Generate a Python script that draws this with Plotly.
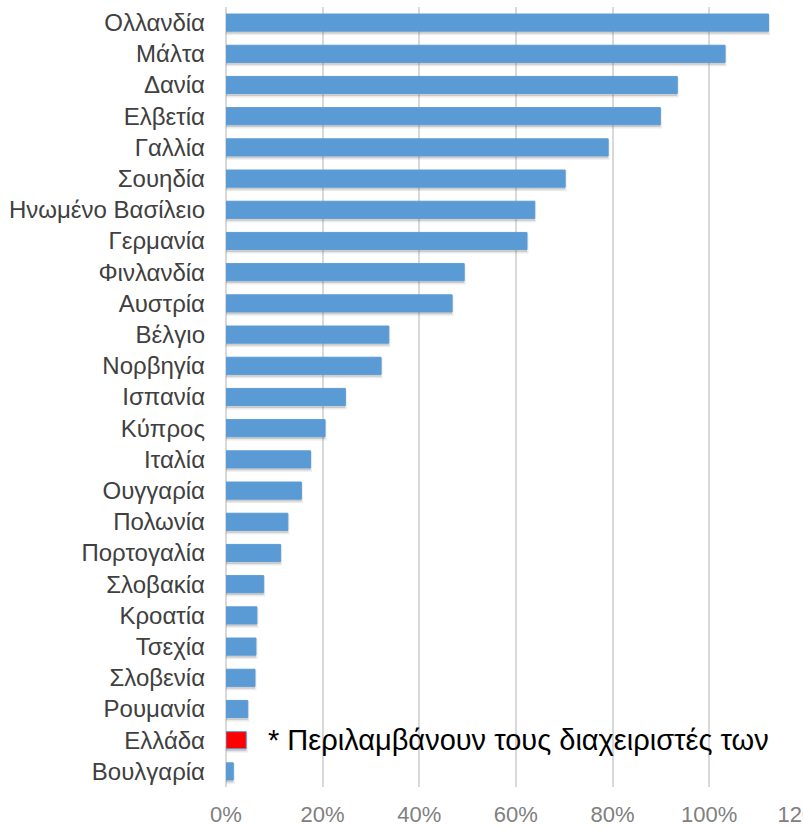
import plotly.graph_objects as go

# Countries from top to bottom and their share (fraction, shown as %)
countries = [
    "Ολλανδία", "Μάλτα", "Δανία", "Ελβετία", "Γαλλία", "Σουηδία",
    "Ηνωμένο Βασίλειο", "Γερμανία", "Φινλανδία", "Αυστρία", "Βέλγιο",
    "Νορβηγία", "Ισπανία", "Κύπρος", "Ιταλία", "Ουγγαρία", "Πολωνία",
    "Πορτογαλία", "Σλοβακία", "Κροατία", "Τσεχία", "Σλοβενία",
    "Ρουμανία", "Ελλάδα", "Βουλγαρία",
]
values = [
    1.123, 1.033, 0.934, 0.899, 0.791, 0.702,
    0.639, 0.623, 0.493, 0.468, 0.337,
    0.321, 0.247, 0.205, 0.175, 0.156, 0.128,
    0.113, 0.078, 0.064, 0.062, 0.060,
    0.045, 0.042, 0.015,
]
highlight = "Ελλάδα"
footnote = "* Περιλαμβάνουν τους διαχειριστές των"
tick_vals = [0, 0.2, 0.4, 0.6, 0.8, 1.0, 1.2]
tick_text = ["0%", "20%", "40%", "60%", "80%", "100%", "120%"]

BLUE = "#5B9BD5"
RED = "#FF0000"
fill = [RED if c == highlight else BLUE for c in countries]

fig = go.Figure()

# soft drop shadow under each bar
fig.add_trace(go.Bar(
    x=values, y=countries, orientation="h",
    width=0.55, offset=-0.2,
    marker=dict(color="rgba(90,90,90,0.22)",
                line=dict(color="rgba(90,90,90,0.12)", width=3)),
    hoverinfo="skip", showlegend=False,
))
# main bars
fig.add_trace(go.Bar(
    x=values, y=countries, orientation="h",
    width=0.55, offset=-0.275,
    marker=dict(color=fill, line=dict(color=BLUE, width=1)),
    showlegend=False,
))

fig.add_annotation(
    x=0.082, y=highlight, xref="x", yref="y",
    text=footnote, showarrow=False, xanchor="left", yanchor="middle",
    font=dict(size=29, color="#000000"),
)

fig.update_layout(
    width=812, height=826,
    margin=dict(l=226, r=6, t=7, b=39),
    paper_bgcolor="white", plot_bgcolor="white",
    barmode="overlay",
    font=dict(family="Arial, 'Liberation Sans', sans-serif"),
)
fig.update_xaxes(
    range=[0, 1.2005], tickvals=tick_vals, ticktext=tick_text,
    showgrid=True, gridcolor="#D9D9D9", gridwidth=1.5,
    zeroline=True, zerolinecolor="#D9D9D9", zerolinewidth=2,
    tickfont=dict(size=22, color="#808080"),
    ticks="", showline=False, ticklabelstandoff=12,
    ticklabeloverflow="allow", automargin=False,
)
fig.update_yaxes(
    autorange="reversed", type="category",
    tickfont=dict(size=24, color="#404040"),
    ticks="", showline=False, showgrid=False, ticklabelstandoff=20,
    automargin=False,
)

fig.write_html(
    "out.html",
    post_script="document.body.style.overflow='hidden';"
                "document.documentElement.style.overflow='hidden';",
)
